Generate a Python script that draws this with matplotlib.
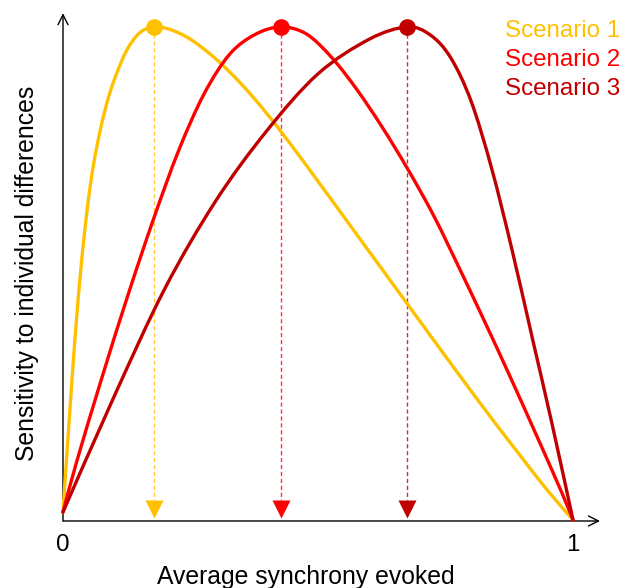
import matplotlib.pyplot as plt
import numpy as np
from matplotlib.path import Path
from matplotlib.patches import PathPatch

plt.rcParams['font.family'] = ['Liberation Sans', 'DejaVu Sans']

# curves (x: average synchrony, y: sensitivity, peak = 1)
s1_x = [0, 0.012, 0.024, 0.036, 0.048, 0.06, 0.075, 0.09, 0.105, 0.125, 0.15, 0.178,
        0.21, 0.25, 0.3, 0.35, 0.4, 0.45, 0.5, 0.55, 0.6, 0.65, 0.7, 0.75, 0.8,
        0.85, 0.9, 0.95, 1.0]
s1_y = [0.016, 0.2, 0.375, 0.52, 0.635, 0.722, 0.8, 0.86, 0.905, 0.953, 0.988, 1.0,
        0.995, 0.975, 0.935, 0.884, 0.824, 0.757, 0.687, 0.616, 0.545, 0.474, 0.403,
        0.332, 0.262, 0.193, 0.126, 0.06, 0.0]

s2_x = [0, 0.027, 0.077, 0.127, 0.177, 0.227, 0.277, 0.327, 0.377, 0.427,
        0.477, 0.527, 0.577, 0.627, 0.677, 0.727, 0.777, 0.827, 0.877, 0.927, 0.977, 1.0]
s2_y = [0.016, 0.119, 0.291, 0.455, 0.609, 0.75, 0.865, 0.945, 0.985, 1.0,
        0.986, 0.938, 0.872, 0.795, 0.71, 0.617, 0.511, 0.402, 0.29, 0.175, 0.058, 0.0]

s3_x = [0, 0.1, 0.2, 0.3, 0.4, 0.5, 0.6, 0.674,
        0.72, 0.76, 0.8, 0.84, 0.88, 0.92, 0.96, 1.0]
s3_y = [0.016, 0.25, 0.47, 0.648, 0.79, 0.905, 0.975, 1.0,
        0.984, 0.938, 0.85, 0.715, 0.55, 0.37, 0.19, 0.0]

peaks_x = [0.178, 0.427, 0.674]
peaks_y = [1.0, 1.0, 1.0]
labels = ['Scenario 1', 'Scenario 2', 'Scenario 3']
colors = ['#FFC000', '#FF0000', '#C00000']


def smooth_path(xs, ys):
    # Catmull-Rom through the read points, drawn as cubic Bezier segments
    p = np.column_stack([xs, ys])
    p = np.vstack([p[0], p, p[-1]])
    verts = [p[1]]
    codes = [Path.MOVETO]
    for i in range(1, len(p) - 2):
        c1 = p[i] + (p[i + 1] - p[i - 1]) / 6
        c2 = p[i + 1] - (p[i + 2] - p[i]) / 6
        verts += [c1, c2, p[i + 1]]
        codes += [Path.CURVE4] * 3
    return Path(verts, codes)


fig = plt.figure(figsize=(6.34, 5.88), dpi=100)
ax = fig.add_axes([63 / 634, 68 / 588, 510 / 634, 493 / 588])
ax.set_xlim(0, 1)
ax.set_ylim(0, 1)
ax.axis('off')

# axes with open arrow heads
ax.annotate('', xy=(1.053, -0.002), xytext=(0, -0.002),
            arrowprops=dict(arrowstyle='->', color='black', lw=1.0,
                            mutation_scale=18, shrinkA=0, shrinkB=0),
            annotation_clip=False)
ax.annotate('', xy=(0, 1.028), xytext=(0, -0.002),
            arrowprops=dict(arrowstyle='->', color='black', lw=1.0,
                            mutation_scale=18, shrinkA=0, shrinkB=0),
            annotation_clip=False)

series = [(s1_x, s1_y), (s2_x, s2_y), (s3_x, s3_y)]
for (xs, ys), c in zip(series, colors):
    ax.add_patch(PathPatch(smooth_path(xs, ys), fill=False, edgecolor=c, lw=2.4,
                           capstyle='round', clip_on=False, zorder=3))
for px, py, c in zip(peaks_x, peaks_y, colors):
    ax.plot([px, px], [py, 0.04], color=c, lw=1.0, ls=(0, (3, 2)), alpha=0.8,
            clip_on=False, zorder=2)
    ax.plot(px, 0.023, marker='v', ms=13.5, color=c, mec='none', clip_on=False, zorder=4)
    ax.plot(px, py, marker='o', ms=12, color=c, mec='none', clip_on=False, zorder=5)

for i, (lab, c) in enumerate(zip(labels, colors)):
    ax.text(0.867, 0.991 - i * 0.058, lab, color=c, fontsize=17.4,
            ha='left', va='center')

ax.text(0, -0.05, '0', fontsize=17.4, ha='center', va='center')
ax.text(1, -0.05, '1', fontsize=17.4, ha='center', va='center')
ax.text(0.477, -0.116, 'Average synchrony evoked', fontsize=17.8, ha='center', va='center')
ax.text(-0.07, 0.501, 'Sensitivity to individual differences', fontsize=17.8,
        ha='center', va='center', rotation=90)

fig.savefig('out.png', dpi=100)
